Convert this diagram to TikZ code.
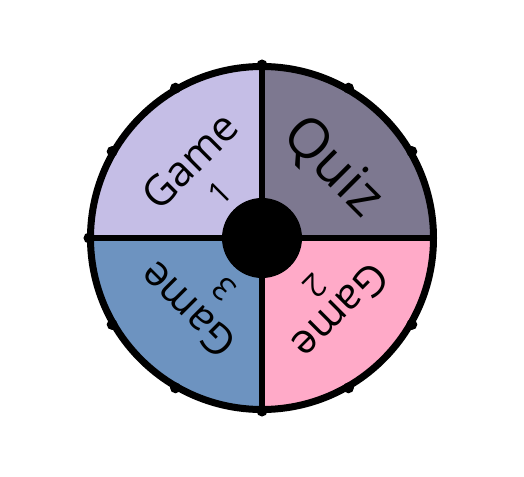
\documentclass[tikz,border=0pt]{standalone}
\usepackage{fontspec}
\setmainfont{Open Sans}
\usepackage{xcolor}
\usepackage{tikz}
\usetikzlibrary{positioning}
\definecolor{slicegame1}{HTML}{C5BEE6}
\definecolor{slicequiz}{HTML}{7D7890}
\definecolor{slicegame2}{HTML}{FFAAC8}
\definecolor{slicegame3}{HTML}{6D93C0}

\tikzset{
  rim/.style={line width=7pt},
  spoke/.style={line width=6pt},
  peg/.style={circle,fill=black,inner sep=0pt,minimum size=11pt},
  hub/.style={circle,fill=black,inner sep=0pt,minimum size=80pt},
  word/.style={inner sep=0pt,font=\fontsize{42}{42}\selectfont},
  bigword/.style={inner sep=0pt,font=\fontsize{55}{55}\selectfont},
  num/.style={inner sep=0pt,font=\fontsize{32}{32}\selectfont}
}

\begin{document}
\begin{tikzpicture}[x=1pt,y=1pt]
\useasboundingbox (-262,-238) rectangle (262,238);
\def\R{171.5}
% the four slices
\fill[slicequiz] (0,0) -- (0:\R) arc (0:90:\R) -- cycle;
\fill[slicegame1] (0,0) -- (90:\R) arc (90:180:\R) -- cycle;
\fill[slicegame3] (0,0) -- (180:\R) arc (180:270:\R) -- cycle;
\fill[slicegame2] (0,0) -- (270:\R) arc (270:360:\R) -- cycle;
\coordinate (top) at (90:\R);
\coordinate (bottom) at (270:\R);
\coordinate (left) at (180:\R);
\coordinate (right) at (0:\R);
\draw[spoke] (top) -- (bottom);
\draw[spoke] (left) -- (right);
\draw[rim] (0,0) circle (\R);
\node[hub] (hub) at (0,0) {};
\foreach \a in {30,60,...,330}
  \node[peg] (p\a) at (\a:173) {};
% labels
\node[word,rotate=45] (game1) at (133:106) {Game};
\node[num,rotate=45] (game1n) at (133:62) {1};
\node[bigword,rotate=-45] (quiz) at (45:100) {Quiz};
\node[word,rotate=-135] (game2) at (-43:108) {Game};
\node[num,rotate=-135] (game2n) at (-42:72) {2};
\node[word,rotate=135] (game3) at (224:104) {Game};
\node[num,rotate=135] (game3n) at (233:64) {3};
\end{tikzpicture}
\end{document}
